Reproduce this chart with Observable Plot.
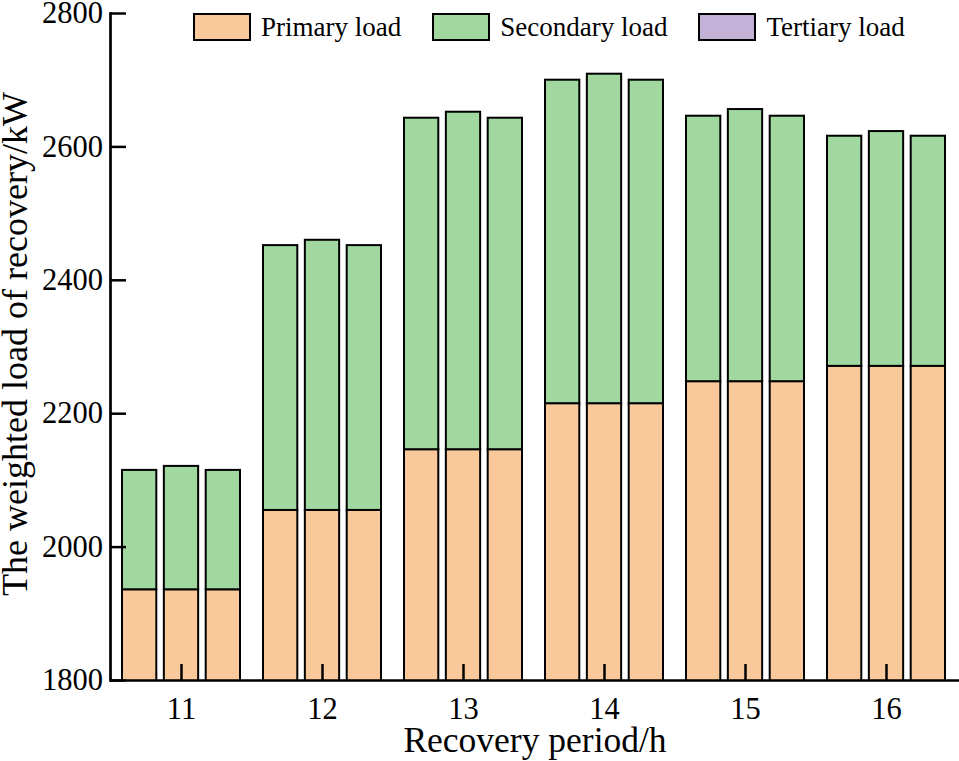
<!DOCTYPE html>
<html><head><meta charset="utf-8">
<script src="https://cdn.jsdelivr.net/npm/d3@7"></script>
<script src="https://cdn.jsdelivr.net/npm/@observablehq/plot@0.6"></script>
<style>
body{margin:0;background:#fff;}
#wrap{position:relative;width:959px;height:761px;font-family:"Liberation Serif","Times New Roman",serif;}
#legend{position:absolute;left:193px;top:13px;display:flex;gap:31px;}
.item{display:flex;align-items:center;gap:10px;font-size:27px;line-height:27px;color:#000;}
.sw{width:58px;height:28px;box-sizing:border-box;border:2px solid #000;}
</style></head><body><div id="wrap"><div id="legend"></div></div>
<script>
const periods = ["11", "12", "13", "14", "15", "16"];
const loadTypes = ["Primary load", "Secondary load", "Tertiary load"];
const loadColors = ["#F9C89B", "#A0D8A0", "#C4B1D8"];
const schemes = ["Scheme 1", "Scheme 2", "Scheme 3"];

const primary1 = [1936, 2055, 2146, 2215, 2248, 2271];
const primary2 = [1936, 2055, 2146, 2215, 2248, 2271];
const primary3 = [1936, 2055, 2146, 2215, 2248, 2271];
const secondary1 = [179, 397, 497, 485, 398, 345];
const secondary2 = [185, 405, 506, 494, 408, 352];
const secondary3 = [179, 397, 497, 485, 398, 345];
const tertiary1 = [0, 0, 0, 0, 0, 0];
const tertiary2 = [0, 0, 0, 0, 0, 0];
const tertiary3 = [0, 0, 0, 0, 0, 0];

const yTicks = [1800, 2000, 2200, 2400, 2600, 2800];
const yTitle = "The weighted load of recovery/kW";
const xTitle = "Recovery period/h";

const seriesByScheme = [
  [primary1, secondary1, tertiary1],
  [primary2, secondary2, tertiary2],
  [primary3, secondary3, tertiary3]
];

const rows = [];
schemes.forEach((s, k) => {
  periods.forEach((p, i) => {
    loadTypes.forEach((t, j) => {
      rows.push({scheme: s, period: p, type: t, value: seriesByScheme[k][j][i]});
    });
  });
});

const font = '"Liberation Serif","Times New Roman",serif';
const insets = [[1, 84.7], [42.85, 42.85], [84.7, 1]];

const barMarks = schemes.map((s, k) =>
  Plot.barY(rows.filter(r => r.scheme === s), Plot.stackY({
    x: "period", y: "value", fill: "type",
    stroke: "#000", strokeWidth: 2,
    insetLeft: insets[k][0], insetRight: insets[k][1],
    clip: true
  }))
);

const chart = Plot.plot({
  width: 959, height: 761,
  marginLeft: 110, marginRight: 0, marginTop: 13, marginBottom: 81,
  x: {domain: periods, paddingInner: 0.147, paddingOuter: 0.084, align: 0.45},
  y: {domain: [1800, 2800]},
  color: {domain: loadTypes, range: loadColors},
  style: {fontFamily: font, background: "white", color: "#000", overflow: "visible"},
  marks: [
    ...barMarks,
    Plot.frame({anchor: "left", strokeWidth: 2.7}),
    Plot.ruleY([1800], {strokeWidth: 2.7}),
    Plot.axisY({ticks: yTicks, tickSize: -16, tickPadding: 23.5, strokeWidth: 2.5, fontSize: 30.5, tickFormat: d => String(d), label: null}),
    Plot.axisX({tickSize: -16, tickPadding: 33, strokeWidth: 2.5, fontSize: 30.5, label: null}),
    Plot.text([yTitle], {text: d => d, frameAnchor: "left", textAnchor: "middle", rotate: -90, dx: -84, dy: -3, lineAnchor: "bottom", fontSize: 36}),
    Plot.text([xTitle], {text: d => d, frameAnchor: "bottom", textAnchor: "middle", dy: 71, lineAnchor: "bottom", fontSize: 35.5})
  ]
});

document.getElementById("wrap").prepend(chart);

const legend = document.getElementById("legend");
loadTypes.forEach((t, j) => {
  const item = document.createElement("div");
  item.className = "item";
  const sw = document.createElement("div");
  sw.className = "sw";
  sw.style.background = loadColors[j];
  const label = document.createElement("span");
  label.textContent = t;
  item.append(sw, label);
  legend.append(item);
});
</script></body></html>
